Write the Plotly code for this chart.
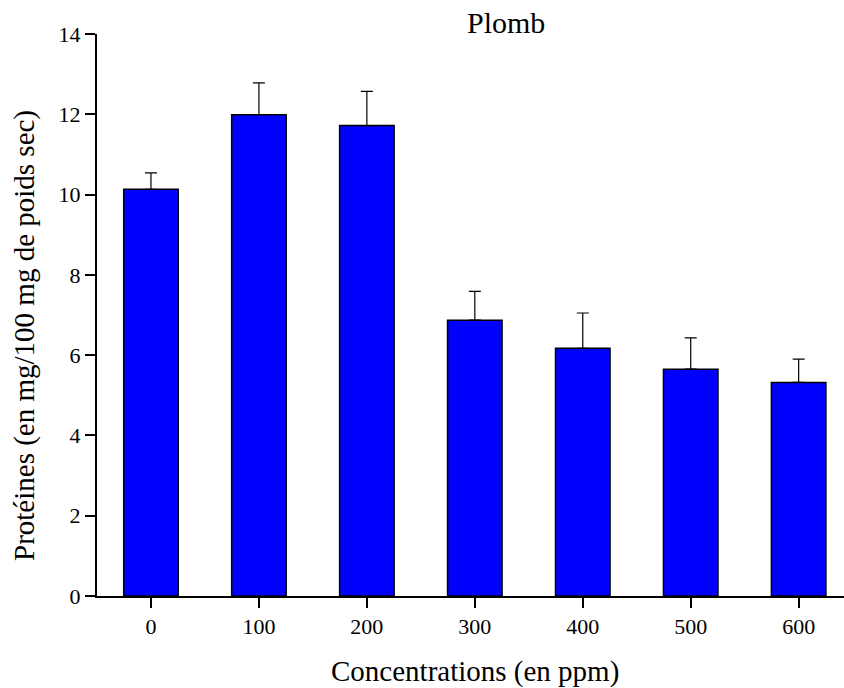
import plotly.graph_objects as go

categories = ["0", "100", "200", "300", "400", "500", "600"]
means = [10.13, 11.99, 11.72, 6.87, 6.17, 5.65, 5.32]
err_top = [10.54, 12.78, 12.57, 7.59, 7.05, 6.43, 5.90]
errors = [round(t - m, 2) for t, m in zip(err_top, means)]

title_text = "Plomb"
x_title = "Concentrations (en ppm)"
y_title = "Protéines (en mg/100 mg de poids sec)"

FONT = "Liberation Serif"

L, R, T, B = 97, 0, 34, 92
W, H = 844, 688
pw, ph = W - L - R, H - T - B

def px(x):
    return (x - L) / pw

def py(y):
    return (H - B - y) / ph

fig = go.Figure(
    go.Bar(
        x=list(range(len(categories))),
        y=means,
        width=0.505,
        marker=dict(color="#0000ff", line=dict(color="black", width=1.5)),
        error_y=dict(type="data", array=errors, arrayminus=[0] * len(errors),
                     symmetric=False, color="black", thickness=1.2, width=6),
    )
)

fig.update_layout(
    width=W, height=H,
    margin=dict(l=L, r=R, t=T, b=B),
    plot_bgcolor="white", paper_bgcolor="white",
    showlegend=False,
    font=dict(family=FONT, color="black", size=22),
    xaxis=dict(
        range=[-0.5, 6.42], tickmode="array",
        tickvals=list(range(len(categories))), ticktext=categories,
        showgrid=False, zeroline=False, showline=True, linecolor="black", linewidth=2,
        ticks="outside", ticklen=10, tickwidth=2, tickcolor="black",
        tickfont=dict(family=FONT, size=22), fixedrange=True,
    ),
    yaxis=dict(
        range=[0, 14], tickvals=[0, 2, 4, 6, 8, 10, 12, 14],
        showgrid=False, zeroline=False, showline=True, linecolor="black", linewidth=2,
        ticks="outside", ticklen=10, tickwidth=2, tickcolor="black",
        tickfont=dict(family=FONT, size=22), fixedrange=True,
    ),
    annotations=[
        dict(text=title_text, xref="paper", yref="paper", x=px(506), y=py(22),
             xanchor="center", yanchor="middle", showarrow=False,
             font=dict(family=FONT, size=30)),
        dict(text=x_title, xref="paper", yref="paper", x=px(475), y=py(671),
             xanchor="center", yanchor="middle", showarrow=False,
             font=dict(family=FONT, size=29)),
        dict(text=y_title, xref="paper", yref="paper", x=px(25), y=py(336),
             xanchor="center", yanchor="middle", showarrow=False, textangle=-90,
             font=dict(family=FONT, size=29)),
    ],
)

fig.write_html("out.html")
